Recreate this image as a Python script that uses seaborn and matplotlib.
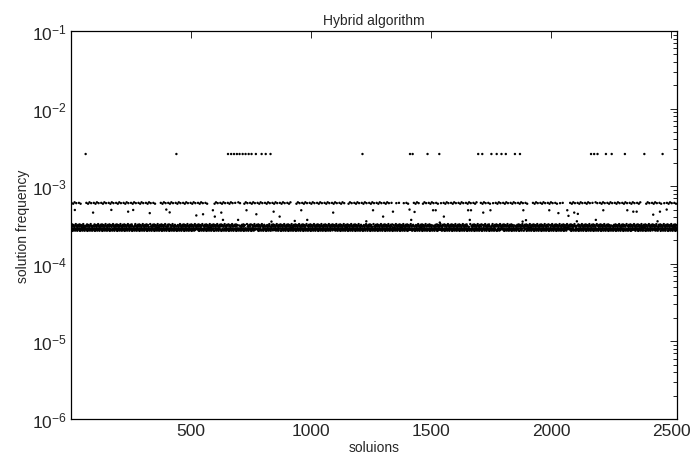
import matplotlib

matplotlib.use("Agg")
import matplotlib.pyplot as plt
import numpy as np
import pandas as pd
import seaborn as sns

# Number of solutions on the x axis
n_solutions = 2525

# Frequencies seen in the dense bands, in the order they repeat along x
band_pattern = [
    3.10e-4, 2.78e-4, 6.10e-4, 3.02e-4, 2.70e-4, 3.22e-4, 2.86e-4, 2.66e-4,
    3.06e-4, 5.95e-4, 2.80e-4, 3.16e-4, 2.72e-4, 2.87e-4, 3.00e-4, 6.20e-4,
    2.76e-4, 2.68e-4, 3.12e-4, 2.84e-4, 3.25e-4, 2.73e-4, 6.05e-4, 3.01e-4,
    2.79e-4, 3.08e-4, 2.67e-4, 3.03e-4, 2.88e-4, 2.82e-4, 3.18e-4,
]

# Short stretches where the ~6e-4 band is empty (those solutions sit in the dense band)
gap_starts = [45, 355, 570, 918, 1140, 1340, 1372, 1450, 1905, 2055, 2378]
gap_ends = [58, 364, 584, 928, 1152, 1352, 1385, 1460, 1916, 2070, 2390]
gap_freq = 2.92e-4

# Sparse top row (frequency ~2.6e-3)
top_freq = 2.6e-3
top_x = [
    62, 440, 655, 668, 680, 692, 703, 716, 728, 741, 753, 771, 795, 812, 832,
    1215, 1413, 1424, 1486, 1535, 1697, 1714, 1752, 1774, 1794, 1812, 1850,
    1871, 2167, 2180, 2194, 2229, 2253, 2308, 2389, 2465,
]

# Scattered points between the 6e-4 band and the dense band
mid_x = [
    17, 93, 169, 239, 260, 329, 398, 412, 523, 551, 592, 600, 627, 634, 697,
    732, 773, 812, 836, 845, 870, 933, 960, 985, 1093, 1231, 1259, 1301,
    1342, 1411, 1418, 1432, 1509, 1520, 1537, 1554, 1655, 1662, 1667, 1718,
    1748, 1794, 1850, 1882, 1885, 1896, 1993, 2031, 2068, 2073, 2097, 2108,
    2112, 2187, 2218, 2229, 2318, 2343, 2357, 2426, 2444, 2454, 2482,
]
mid_freq = [
    4.94e-4, 4.57e-4, 4.95e-4, 4.70e-4, 4.94e-4, 4.50e-4, 5.00e-4, 4.60e-4,
    4.20e-4, 4.35e-4, 4.90e-4, 4.06e-4, 4.57e-4, 3.68e-4, 3.68e-4, 4.90e-4,
    4.35e-4, 5.00e-4, 3.50e-4, 4.70e-4, 4.06e-4, 3.57e-4, 4.90e-4, 3.68e-4,
    4.57e-4, 3.53e-4, 4.90e-4, 4.06e-4, 4.70e-4, 5.00e-4, 3.68e-4, 4.66e-4,
    4.90e-4, 4.90e-4, 3.40e-4, 4.06e-4, 4.90e-4, 3.68e-4, 4.90e-4, 4.57e-4,
    4.90e-4, 4.06e-4, 4.90e-4, 3.50e-4, 4.90e-4, 3.65e-4, 4.90e-4, 4.50e-4,
    4.90e-4, 4.15e-4, 4.57e-4, 3.53e-4, 4.40e-4, 3.68e-4, 4.90e-4, 4.90e-4,
    4.90e-4, 4.70e-4, 4.70e-4, 4.30e-4, 3.53e-4, 4.70e-4, 5.00e-4,
]

solutions = np.arange(1, n_solutions + 1)
freqs = np.resize(np.array(band_pattern), n_solutions)

# Empty stretches of the upper band
for start, end in zip(gap_starts, gap_ends):
    seg = freqs[start - 1:end]
    seg[seg > 5e-4] = gap_freq

freqs[np.array(mid_x) - 1] = mid_freq
freqs[np.array(top_x) - 1] = top_freq

df = pd.DataFrame({"solution": solutions, "frequency": freqs})

sns.set_style("white")
plt.rcParams["font.family"] = ["Liberation Sans", "DejaVu Sans"]
plt.rcParams["xtick.direction"] = "in"
plt.rcParams["ytick.direction"] = "in"

fig = plt.figure(figsize=(6.94, 4.64), dpi=100)
ax = fig.add_axes([0.1023, 0.0948, 0.8732, 0.8362])

sns.scatterplot(
    data=df, x="solution", y="frequency", color="black", s=3,
    linewidth=0, edgecolor="none", ax=ax, legend=False,
)

ax.set_yscale("log")
ax.set_ylim(1e-6, 1e-1)
ax.set_xlim(1, n_solutions)
ax.set_xticks([500, 1000, 1500, 2000, 2500])

for side in ["top", "right", "bottom", "left"]:
    ax.spines[side].set_visible(True)
    ax.spines[side].set_color("black")
    ax.spines[side].set_linewidth(0.9)

ax.tick_params(which="both", top=True, right=True, color="black", width=0.6)
ax.tick_params(which="major", length=5, labelsize=12.5, pad=3)
ax.tick_params(which="minor", length=3)

ax.set_title("Hybrid algorithm", fontsize=10, pad=5)
ax.set_xlabel("soluions", fontsize=10, labelpad=1)
ax.set_ylabel("solution frequency", fontsize=10, labelpad=1)

fig.savefig("out.png", dpi=100)
